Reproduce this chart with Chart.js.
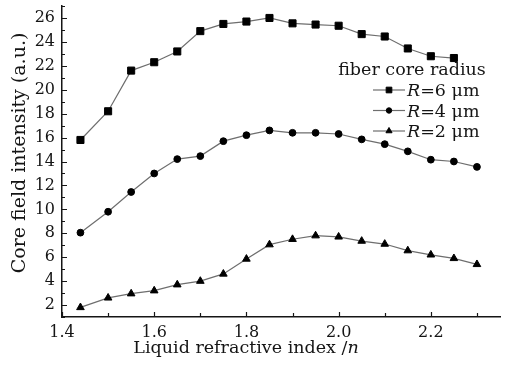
<!DOCTYPE html>
<html>
<head>
<meta charset="utf-8">
<script src="https://cdn.jsdelivr.net/npm/chart.js@4.4.0/dist/chart.umd.min.js"></script>
<style>
  html, body { margin: 0; padding: 0; background: #ffffff; }
  #wrap { width: 509px; height: 371px; }
</style>
</head>
<body>
<div id="wrap"><canvas id="c" width="509" height="371"></canvas></div>
<script>
// Liquid refractive index n for each sample
const refractiveIndex = [1.44, 1.50, 1.55, 1.60, 1.65, 1.70, 1.75, 1.80, 1.85, 1.90,
                         1.95, 2.00, 2.05, 2.10, 2.15, 2.20, 2.25, 2.30];

// Core field intensity (a.u.) per fiber core radius
const intensityR6 = [15.8, 18.2, 21.6, 22.3, 23.2, 24.9, 25.5, 25.7, 26.0, 25.55,
                     25.45, 25.35, 24.65, 24.45, 23.45, 22.8, 22.65];
const intensityR4 = [8.05, 9.8, 11.45, 13.0, 14.2, 14.45, 15.7, 16.2, 16.6, 16.4,
                     16.4, 16.3, 15.85, 15.45, 14.85, 14.15, 14.0, 13.55];
const intensityR2 = [1.8, 2.6, 2.95, 3.2, 3.7, 4.0, 4.6, 5.85, 7.05, 7.5,
                     7.8, 7.7, 7.35, 7.1, 6.55, 6.2, 5.9, 5.4];

const coreRadii = [6, 4, 2];          // μm
const radiusUnit = 'μm';
const legendTitle = 'fiber core radius';
const xAxisTitle = 'Liquid refractive index /';
const xAxisVar = 'n';
const yAxisTitle = 'Core field intensity (a.u.)';

const xTicks = [1.4, 1.6, 1.8, 2.0, 2.2];
const xMinorTicks = [1.5, 1.7, 1.9, 2.1, 2.3];
const yTicks = [2, 4, 6, 8, 10, 12, 14, 16, 18, 20, 22, 24, 26];
const yMinorTicks = [1, 3, 5, 7, 9, 11, 13, 15, 17, 19, 21, 23, 25, 27];

const SERIF = '"DejaVu Serif", serif';
const INK = '#151515';
const LINE = '#6e6e6e';

const toPoints = (vals) => vals.map((v, i) => ({ x: refractiveIndex[i], y: v }));

const seriesStyle = [
  { data: intensityR6, pointStyle: 'rect', radius: 5 },
  { data: intensityR4, pointStyle: 'circle', radius: 3.4 },
  { data: intensityR2, pointStyle: 'triangle', radius: 4.4 }
];

const datasets = seriesStyle.map((s, i) => ({
  label: 'R=' + coreRadii[i] + ' ' + radiusUnit,
  data: toPoints(s.data),
  borderColor: LINE,
  borderWidth: 1.2,
  pointStyle: s.pointStyle,
  pointRadius: s.radius,
  pointBackgroundColor: '#000',
  pointBorderColor: '#000',
  pointBorderWidth: 1,
  tension: 0,
  fill: false
}));

// Inward major/minor tick marks, axis titles and the legend block
const decorations = {
  id: 'decorations',
  afterDatasetsDraw(chart) {
    const { ctx, chartArea: a, scales: { x, y } } = chart;
    ctx.save();
    ctx.strokeStyle = INK;
    ctx.lineWidth = 1.2;
    ctx.beginPath();
    const tickX = (v, len) => {
      const px = Math.round(x.getPixelForValue(v)) + 0.5;
      ctx.moveTo(px, a.bottom); ctx.lineTo(px, a.bottom - len);
    };
    const tickY = (v, len) => {
      const py = Math.round(y.getPixelForValue(v)) + 0.5;
      ctx.moveTo(a.left, py); ctx.lineTo(a.left + len, py);
    };
    xTicks.forEach(v => tickX(v, 5));
    xMinorTicks.forEach(v => tickX(v, 4));
    yTicks.forEach(v => tickY(v, 5));
    yMinorTicks.forEach(v => tickY(v, 3));
    ctx.stroke();

    ctx.fillStyle = INK;
    ctx.textBaseline = 'alphabetic';

    // x-axis title with italic variable
    const reg = '17.5px ' + SERIF;
    const ital = 'italic 17.5px ' + SERIF;
    ctx.font = reg;
    const w1 = ctx.measureText(xAxisTitle).width;
    ctx.font = ital;
    const w2 = ctx.measureText(xAxisVar).width;
    const tx = 246 - (w1 + w2) / 2;
    ctx.font = reg;
    ctx.textAlign = 'left';
    ctx.fillText(xAxisTitle, tx, 353);
    ctx.font = ital;
    ctx.fillText(xAxisVar, tx + w1, 353);

    // y-axis title, rotated
    ctx.save();
    ctx.translate(25, 153);
    ctx.rotate(-Math.PI / 2);
    ctx.font = '19px ' + SERIF;
    ctx.textAlign = 'center';
    ctx.fillText(yAxisTitle, 0, 0);
    ctx.restore();

    // legend
    ctx.font = reg;
    ctx.textAlign = 'center';
    ctx.fillText(legendTitle, 412, 75);
    const rowY = [90, 110.5, 131];
    seriesStyle.forEach((s, i) => {
      const yy = rowY[i];
      ctx.strokeStyle = LINE;
      ctx.lineWidth = 1.2;
      ctx.beginPath();
      ctx.moveTo(373, yy); ctx.lineTo(405, yy);
      ctx.stroke();
      ctx.fillStyle = '#000';
      ctx.strokeStyle = '#000';
      ctx.lineWidth = 1;
      Chart.helpers.drawPoint(ctx, {
        pointStyle: s.pointStyle, radius: s.radius * 0.8, rotation: 0, borderWidth: 1
      }, 389, yy);
      ctx.fillStyle = INK;
      ctx.textAlign = 'left';
      ctx.font = ital;
      ctx.fillText('R', 407, yy + 6);
      const rw = ctx.measureText('R').width;
      ctx.font = reg;
      ctx.fillText('=' + coreRadii[i] + ' ' + radiusUnit, 407 + rw, yy + 6);
    });
    ctx.restore();
  }
};

new Chart(document.getElementById('c'), {
  type: 'line',
  data: { datasets },
  options: {
    responsive: false,
    devicePixelRatio: 1,
    animation: false,
    layout: { padding: { left: 0, right: 9, top: 5, bottom: 0 } },
    plugins: { legend: { display: false }, tooltip: { enabled: false } },
    scales: {
      x: {
        type: 'linear',
        min: 1.4,
        max: 2.35,
        grid: { display: false, drawTicks: false },
        border: { display: true, color: INK, width: 1.5 },
        afterBuildTicks: s => { s.ticks = xTicks.map(v => ({ value: v })); },
        afterFit: s => { s.height = 54; s.paddingLeft = 0; s.paddingRight = 0; },
        ticks: {
          color: INK,
          padding: 6,
          maxRotation: 0,
          font: { family: SERIF, size: 16 },
          callback: v => Number(v).toFixed(1)
        }
      },
      y: {
        type: 'linear',
        min: 1,
        max: 27,
        grid: { display: false, drawTicks: false },
        border: { display: true, color: INK, width: 1.5 },
        afterBuildTicks: s => { s.ticks = yTicks.map(v => ({ value: v })); },
        afterFit: s => { s.width = 62; s.paddingTop = 0; s.paddingBottom = 0; },
        ticks: {
          color: INK,
          padding: 7,
          font: { family: SERIF, size: 16 },
          callback: v => String(v)
        }
      }
    }
  },
  plugins: [decorations]
});
</script>
</body>
</html>
